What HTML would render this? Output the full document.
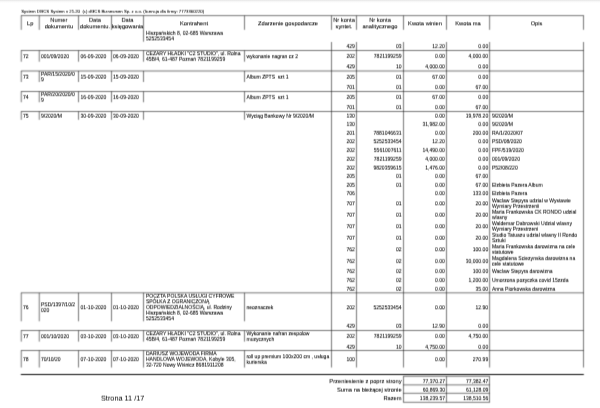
<!DOCTYPE html>
<html><head><meta charset="utf-8"><title>Strona 11/17</title>
<style>
html,body{margin:0;padding:0;background:#fff;width:600px;height:408px;overflow:hidden}
.top{position:absolute;left:0;top:0;width:600px;height:3px;background:linear-gradient(#e6e6e6,#f7f7f7 50%,#fff)}
svg{position:absolute;left:0;top:0;}
text{white-space:pre;stroke:#000;stroke-width:0.06px;font-family:"Liberation Sans",Arial,sans-serif;fill:#000}
</style></head><body>
<div class="top"></div>
<svg width="600" height="408" viewBox="0 0 600 408">
<defs><filter id="t0" x="-0.05" y="-0.4" width="1.1" height="1.8"><feConvolveMatrix order="1 3" kernelMatrix="0.4167 0.5833 0.0000" divisor="1" edgeMode="none" preserveAlpha="false"/></filter><filter id="t1" x="-0.05" y="-0.4" width="1.1" height="1.8"><feConvolveMatrix order="1 3" kernelMatrix="0.3667 0.6333 0.0000" divisor="1" edgeMode="none" preserveAlpha="false"/></filter><filter id="t2" x="-0.05" y="-0.4" width="1.1" height="1.8"><feConvolveMatrix order="1 3" kernelMatrix="0.3167 0.6667 0.0167" divisor="1" edgeMode="none" preserveAlpha="false"/></filter><filter id="t3" x="-0.05" y="-0.4" width="1.1" height="1.8"><feConvolveMatrix order="1 3" kernelMatrix="0.2667 0.6667 0.0667" divisor="1" edgeMode="none" preserveAlpha="false"/></filter><filter id="t4" x="-0.05" y="-0.4" width="1.1" height="1.8"><feConvolveMatrix order="1 3" kernelMatrix="0.2167 0.6667 0.1167" divisor="1" edgeMode="none" preserveAlpha="false"/></filter><filter id="t5" x="-0.05" y="-0.4" width="1.1" height="1.8"><feConvolveMatrix order="1 3" kernelMatrix="0.1667 0.6667 0.1667" divisor="1" edgeMode="none" preserveAlpha="false"/></filter><filter id="t6" x="-0.05" y="-0.4" width="1.1" height="1.8"><feConvolveMatrix order="1 3" kernelMatrix="0.1167 0.6667 0.2167" divisor="1" edgeMode="none" preserveAlpha="false"/></filter><filter id="t7" x="-0.05" y="-0.4" width="1.1" height="1.8"><feConvolveMatrix order="1 3" kernelMatrix="0.0667 0.6667 0.2667" divisor="1" edgeMode="none" preserveAlpha="false"/></filter><filter id="t8" x="-0.05" y="-0.4" width="1.1" height="1.8"><feConvolveMatrix order="1 3" kernelMatrix="0.0167 0.6667 0.3167" divisor="1" edgeMode="none" preserveAlpha="false"/></filter><filter id="t9" x="-0.05" y="-0.4" width="1.1" height="1.8"><feConvolveMatrix order="1 3" kernelMatrix="0.0000 0.6333 0.3667" divisor="1" edgeMode="none" preserveAlpha="false"/></filter><filter id="t10" x="-0.05" y="-0.4" width="1.1" height="1.8"><feConvolveMatrix order="1 3" kernelMatrix="0.0000 0.5833 0.4167" divisor="1" edgeMode="none" preserveAlpha="false"/></filter><filter id="tsoft" x="0" y="0" width="600" height="408" filterUnits="userSpaceOnUse"><feConvolveMatrix order="1 3" kernelMatrix="1 4 1" divisor="6" edgeMode="none" preserveAlpha="false"/></filter><filter id="soft" x="0" y="0" width="600" height="408" filterUnits="userSpaceOnUse"><feConvolveMatrix order="3" kernelMatrix="1 4 1 4 16 4 1 4 1" divisor="36" edgeMode="none" preserveAlpha="false"/></filter></defs>
<g filter="url(#soft)">
<line x1="20.96" y1="15.62" x2="583.80" y2="15.62" stroke="#000" stroke-width="0.55"/>
<line x1="21.26" y1="15.62" x2="21.26" y2="29.80" stroke="#000" stroke-width="0.55"/>
<line x1="39.26" y1="15.62" x2="39.26" y2="29.80" stroke="#000" stroke-width="0.55"/>
<line x1="78.50" y1="15.62" x2="78.50" y2="29.80" stroke="#000" stroke-width="0.55"/>
<line x1="111.50" y1="15.62" x2="111.50" y2="29.80" stroke="#000" stroke-width="0.55"/>
<line x1="143.50" y1="15.62" x2="143.50" y2="29.80" stroke="#000" stroke-width="0.55"/>
<line x1="244.50" y1="15.62" x2="244.50" y2="29.80" stroke="#000" stroke-width="0.55"/>
<line x1="331.50" y1="15.62" x2="331.50" y2="29.80" stroke="#000" stroke-width="0.55"/>
<line x1="356.50" y1="15.62" x2="356.50" y2="29.80" stroke="#000" stroke-width="0.55"/>
<line x1="403.50" y1="15.62" x2="403.50" y2="29.80" stroke="#000" stroke-width="0.55"/>
<line x1="446.50" y1="15.62" x2="446.50" y2="29.80" stroke="#000" stroke-width="0.55"/>
<line x1="489.60" y1="15.62" x2="489.60" y2="29.80" stroke="#000" stroke-width="0.55"/>
<line x1="583.50" y1="15.62" x2="583.50" y2="29.80" stroke="#000" stroke-width="0.55"/>
<line x1="143.50" y1="29.80" x2="143.50" y2="41.70" stroke="#000" stroke-width="0.55"/>
<line x1="331.50" y1="42.00" x2="331.50" y2="50.50" stroke="#000" stroke-width="0.55"/>
<line x1="356.50" y1="42.00" x2="356.50" y2="50.50" stroke="#000" stroke-width="0.55"/>
<line x1="403.50" y1="42.00" x2="403.50" y2="50.50" stroke="#000" stroke-width="0.55"/>
<line x1="446.50" y1="42.00" x2="446.50" y2="50.50" stroke="#000" stroke-width="0.55"/>
<line x1="489.60" y1="42.00" x2="489.60" y2="50.50" stroke="#000" stroke-width="0.55"/>
<line x1="583.50" y1="42.00" x2="583.50" y2="50.50" stroke="#000" stroke-width="0.55"/>
<line x1="20.96" y1="50.50" x2="583.80" y2="50.50" stroke="#000" stroke-width="0.55"/>
<line x1="21.26" y1="50.50" x2="21.26" y2="61.70" stroke="#000" stroke-width="0.55"/>
<line x1="39.26" y1="50.50" x2="39.26" y2="61.70" stroke="#000" stroke-width="0.55"/>
<line x1="78.50" y1="50.50" x2="78.50" y2="61.70" stroke="#000" stroke-width="0.55"/>
<line x1="111.50" y1="50.50" x2="111.50" y2="61.70" stroke="#000" stroke-width="0.55"/>
<line x1="143.50" y1="50.50" x2="143.50" y2="61.70" stroke="#000" stroke-width="0.55"/>
<line x1="244.50" y1="50.50" x2="244.50" y2="61.70" stroke="#000" stroke-width="0.55"/>
<line x1="331.50" y1="50.50" x2="331.50" y2="71.00" stroke="#000" stroke-width="0.55"/>
<line x1="356.50" y1="50.50" x2="356.50" y2="71.00" stroke="#000" stroke-width="0.55"/>
<line x1="403.50" y1="50.50" x2="403.50" y2="71.00" stroke="#000" stroke-width="0.55"/>
<line x1="446.50" y1="50.50" x2="446.50" y2="71.00" stroke="#000" stroke-width="0.55"/>
<line x1="489.60" y1="50.50" x2="489.60" y2="71.00" stroke="#000" stroke-width="0.55"/>
<line x1="583.50" y1="50.50" x2="583.50" y2="71.00" stroke="#000" stroke-width="0.55"/>
<line x1="20.96" y1="71.00" x2="583.80" y2="71.00" stroke="#000" stroke-width="0.55"/>
<line x1="21.26" y1="71.00" x2="21.26" y2="82.00" stroke="#000" stroke-width="0.55"/>
<line x1="39.26" y1="71.00" x2="39.26" y2="82.00" stroke="#000" stroke-width="0.55"/>
<line x1="78.50" y1="71.00" x2="78.50" y2="82.00" stroke="#000" stroke-width="0.55"/>
<line x1="111.50" y1="71.00" x2="111.50" y2="82.00" stroke="#000" stroke-width="0.55"/>
<line x1="143.50" y1="71.00" x2="143.50" y2="82.00" stroke="#000" stroke-width="0.55"/>
<line x1="244.50" y1="71.00" x2="244.50" y2="82.00" stroke="#000" stroke-width="0.55"/>
<line x1="331.50" y1="71.00" x2="331.50" y2="91.50" stroke="#000" stroke-width="0.55"/>
<line x1="356.50" y1="71.00" x2="356.50" y2="91.50" stroke="#000" stroke-width="0.55"/>
<line x1="403.50" y1="71.00" x2="403.50" y2="91.50" stroke="#000" stroke-width="0.55"/>
<line x1="446.50" y1="71.00" x2="446.50" y2="91.50" stroke="#000" stroke-width="0.55"/>
<line x1="489.60" y1="71.00" x2="489.60" y2="91.50" stroke="#000" stroke-width="0.55"/>
<line x1="583.50" y1="71.00" x2="583.50" y2="91.50" stroke="#000" stroke-width="0.55"/>
<line x1="20.96" y1="91.50" x2="583.80" y2="91.50" stroke="#000" stroke-width="0.55"/>
<line x1="21.26" y1="91.50" x2="21.26" y2="102.25" stroke="#000" stroke-width="0.55"/>
<line x1="39.26" y1="91.50" x2="39.26" y2="102.25" stroke="#000" stroke-width="0.55"/>
<line x1="78.50" y1="91.50" x2="78.50" y2="102.25" stroke="#000" stroke-width="0.55"/>
<line x1="111.50" y1="91.50" x2="111.50" y2="102.25" stroke="#000" stroke-width="0.55"/>
<line x1="143.50" y1="91.50" x2="143.50" y2="102.25" stroke="#000" stroke-width="0.55"/>
<line x1="244.50" y1="91.50" x2="244.50" y2="102.25" stroke="#000" stroke-width="0.55"/>
<line x1="331.50" y1="91.50" x2="331.50" y2="111.50" stroke="#000" stroke-width="0.55"/>
<line x1="356.50" y1="91.50" x2="356.50" y2="111.50" stroke="#000" stroke-width="0.55"/>
<line x1="403.50" y1="91.50" x2="403.50" y2="111.50" stroke="#000" stroke-width="0.55"/>
<line x1="446.50" y1="91.50" x2="446.50" y2="111.50" stroke="#000" stroke-width="0.55"/>
<line x1="489.60" y1="91.50" x2="489.60" y2="111.50" stroke="#000" stroke-width="0.55"/>
<line x1="583.50" y1="91.50" x2="583.50" y2="111.50" stroke="#000" stroke-width="0.55"/>
<line x1="20.96" y1="111.50" x2="583.80" y2="111.50" stroke="#000" stroke-width="0.55"/>
<line x1="21.26" y1="111.50" x2="21.26" y2="119.75" stroke="#000" stroke-width="0.55"/>
<line x1="39.26" y1="111.50" x2="39.26" y2="119.75" stroke="#000" stroke-width="0.55"/>
<line x1="78.50" y1="111.50" x2="78.50" y2="119.75" stroke="#000" stroke-width="0.55"/>
<line x1="111.50" y1="111.50" x2="111.50" y2="119.75" stroke="#000" stroke-width="0.55"/>
<line x1="143.50" y1="111.50" x2="143.50" y2="119.75" stroke="#000" stroke-width="0.55"/>
<line x1="244.50" y1="111.50" x2="244.50" y2="119.75" stroke="#000" stroke-width="0.55"/>
<line x1="331.50" y1="111.50" x2="331.50" y2="292.85" stroke="#000" stroke-width="0.55"/>
<line x1="356.50" y1="111.50" x2="356.50" y2="292.85" stroke="#000" stroke-width="0.55"/>
<line x1="403.50" y1="111.50" x2="403.50" y2="292.85" stroke="#000" stroke-width="0.55"/>
<line x1="446.50" y1="111.50" x2="446.50" y2="292.85" stroke="#000" stroke-width="0.55"/>
<line x1="489.60" y1="111.50" x2="489.60" y2="292.85" stroke="#000" stroke-width="0.55"/>
<line x1="583.50" y1="111.50" x2="583.50" y2="292.85" stroke="#000" stroke-width="0.55"/>
<line x1="20.96" y1="292.85" x2="583.80" y2="292.85" stroke="#000" stroke-width="0.55"/>
<line x1="21.26" y1="292.85" x2="21.26" y2="321.30" stroke="#000" stroke-width="0.55"/>
<line x1="39.26" y1="292.85" x2="39.26" y2="321.30" stroke="#000" stroke-width="0.55"/>
<line x1="78.50" y1="292.85" x2="78.50" y2="321.30" stroke="#000" stroke-width="0.55"/>
<line x1="111.50" y1="292.85" x2="111.50" y2="321.30" stroke="#000" stroke-width="0.55"/>
<line x1="143.50" y1="292.85" x2="143.50" y2="321.30" stroke="#000" stroke-width="0.55"/>
<line x1="244.50" y1="292.85" x2="244.50" y2="321.30" stroke="#000" stroke-width="0.55"/>
<line x1="331.50" y1="292.85" x2="331.50" y2="330.50" stroke="#000" stroke-width="0.55"/>
<line x1="356.50" y1="292.85" x2="356.50" y2="330.50" stroke="#000" stroke-width="0.55"/>
<line x1="403.50" y1="292.85" x2="403.50" y2="330.50" stroke="#000" stroke-width="0.55"/>
<line x1="446.50" y1="292.85" x2="446.50" y2="330.50" stroke="#000" stroke-width="0.55"/>
<line x1="489.60" y1="292.85" x2="489.60" y2="330.50" stroke="#000" stroke-width="0.55"/>
<line x1="583.50" y1="292.85" x2="583.50" y2="330.50" stroke="#000" stroke-width="0.55"/>
<line x1="20.96" y1="330.50" x2="583.80" y2="330.50" stroke="#000" stroke-width="0.55"/>
<line x1="21.26" y1="330.50" x2="21.26" y2="341.60" stroke="#000" stroke-width="0.55"/>
<line x1="39.26" y1="330.50" x2="39.26" y2="341.60" stroke="#000" stroke-width="0.55"/>
<line x1="78.50" y1="330.50" x2="78.50" y2="341.60" stroke="#000" stroke-width="0.55"/>
<line x1="111.50" y1="330.50" x2="111.50" y2="341.60" stroke="#000" stroke-width="0.55"/>
<line x1="143.50" y1="330.50" x2="143.50" y2="341.60" stroke="#000" stroke-width="0.55"/>
<line x1="244.50" y1="330.50" x2="244.50" y2="341.60" stroke="#000" stroke-width="0.55"/>
<line x1="331.50" y1="330.50" x2="331.50" y2="350.50" stroke="#000" stroke-width="0.55"/>
<line x1="356.50" y1="330.50" x2="356.50" y2="350.50" stroke="#000" stroke-width="0.55"/>
<line x1="403.50" y1="330.50" x2="403.50" y2="350.50" stroke="#000" stroke-width="0.55"/>
<line x1="446.50" y1="330.50" x2="446.50" y2="350.50" stroke="#000" stroke-width="0.55"/>
<line x1="489.60" y1="330.50" x2="489.60" y2="350.50" stroke="#000" stroke-width="0.55"/>
<line x1="583.50" y1="330.50" x2="583.50" y2="350.50" stroke="#000" stroke-width="0.55"/>
<line x1="20.96" y1="350.50" x2="583.80" y2="350.50" stroke="#000" stroke-width="0.55"/>
<line x1="21.26" y1="350.50" x2="21.26" y2="367.50" stroke="#000" stroke-width="0.55"/>
<line x1="39.26" y1="350.50" x2="39.26" y2="367.50" stroke="#000" stroke-width="0.55"/>
<line x1="78.50" y1="350.50" x2="78.50" y2="367.50" stroke="#000" stroke-width="0.55"/>
<line x1="111.50" y1="350.50" x2="111.50" y2="367.50" stroke="#000" stroke-width="0.55"/>
<line x1="143.50" y1="350.50" x2="143.50" y2="367.50" stroke="#000" stroke-width="0.55"/>
<line x1="244.50" y1="350.50" x2="244.50" y2="367.50" stroke="#000" stroke-width="0.55"/>
<line x1="331.50" y1="350.50" x2="331.50" y2="367.50" stroke="#000" stroke-width="0.55"/>
<line x1="356.50" y1="350.50" x2="356.50" y2="367.50" stroke="#000" stroke-width="0.55"/>
<line x1="403.50" y1="350.50" x2="403.50" y2="367.50" stroke="#000" stroke-width="0.55"/>
<line x1="446.50" y1="350.50" x2="446.50" y2="367.50" stroke="#000" stroke-width="0.55"/>
<line x1="489.60" y1="350.50" x2="489.60" y2="367.50" stroke="#000" stroke-width="0.55"/>
<line x1="583.50" y1="350.50" x2="583.50" y2="367.50" stroke="#000" stroke-width="0.55"/>
<line x1="20.80" y1="374.45" x2="583.80" y2="374.45" stroke="#000" stroke-width="1.1"/>
<line x1="403.20" y1="376.30" x2="489.80" y2="376.30" stroke="#000" stroke-width="0.55"/>
<line x1="403.20" y1="384.90" x2="489.80" y2="384.90" stroke="#000" stroke-width="0.55"/>
<line x1="403.20" y1="393.30" x2="489.80" y2="393.30" stroke="#000" stroke-width="0.55"/>
<line x1="403.20" y1="402.30" x2="489.80" y2="402.30" stroke="#000" stroke-width="0.55"/>
<line x1="403.50" y1="376.30" x2="403.50" y2="402.30" stroke="#000" stroke-width="0.55"/>
<line x1="446.50" y1="376.30" x2="446.50" y2="402.30" stroke="#000" stroke-width="0.55"/>
<line x1="489.50" y1="376.30" x2="489.50" y2="402.30" stroke="#000" stroke-width="0.55"/>
</g>
<text x="21.25" y="13" font-size="4.3" xml:space="preserve" filter="url(#t3)">System DGCS System v 21.20  (c) dGCS Biznesmen Sp. z o.o. (licencja dla firmy: 7773360220)</text>
<text x="30.26" y="25" font-size="5.75" text-anchor="middle" filter="url(#t9)">Lp</text>
<text x="58.88" y="22" font-size="5.75" text-anchor="middle" filter="url(#t4)">Numer</text>
<text x="58.88" y="28" font-size="5.75" text-anchor="middle" filter="url(#t9)">dokumentu</text>
<text x="95.00" y="22" font-size="5.75" text-anchor="middle" filter="url(#t4)">Data</text>
<text x="95.00" y="28" font-size="5.75" text-anchor="middle" filter="url(#t9)">dokumentu.</text>
<text x="127.50" y="22" font-size="5.75" text-anchor="middle" filter="url(#t4)">Data</text>
<text x="127.50" y="28" font-size="5.75" text-anchor="middle" filter="url(#t9)">księgowania</text>
<text x="194.00" y="25" font-size="5.75" text-anchor="middle" filter="url(#t9)">Kontrahent</text>
<text x="288.00" y="25" font-size="5.75" text-anchor="middle" filter="url(#t9)">Zdarzenie gospodarcze</text>
<text x="344.00" y="22" font-size="5.75" text-anchor="middle" filter="url(#t4)">Nr konta</text>
<text x="344.00" y="28" font-size="5.75" text-anchor="middle" filter="url(#t9)">syntet.</text>
<text x="380.00" y="22" font-size="5.75" text-anchor="middle" filter="url(#t4)">Nr konta</text>
<text x="380.00" y="28" font-size="5.75" text-anchor="middle" filter="url(#t9)">analitycznego</text>
<text x="425.00" y="25" font-size="5.75" text-anchor="middle" filter="url(#t9)">Kwota winien</text>
<text x="468.05" y="25" font-size="5.75" text-anchor="middle" filter="url(#t9)">Kwota ma</text>
<text x="536.55" y="25" font-size="5.75" text-anchor="middle" filter="url(#t9)">Opis</text>
<text x="145.90" y="35" font-size="5.05" filter="url(#t4)">Hiszpańskich 8, 02-685 Warszawa</text>
<text x="145.90" y="40" font-size="5.05" filter="url(#t10)">5252533454</text>
<text x="354.85" y="48" font-size="5.05" text-anchor="end" filter="url(#t6)">429</text>
<text x="401.50" y="48" font-size="5.05" text-anchor="end" filter="url(#t6)">03</text>
<text x="444.90" y="48" font-size="5.05" text-anchor="end" filter="url(#t6)">12.20</text>
<text x="488.20" y="48" font-size="5.05" text-anchor="end" filter="url(#t6)">0.00</text>
<text x="23.05" y="58" font-size="5.05" filter="url(#t7)">72</text>
<text x="40.95" y="58" font-size="5.05" filter="url(#t7)">001/09/2020</text>
<text x="80.55" y="58" font-size="5.05" filter="url(#t7)">06-09-2020</text>
<text x="113.05" y="58" font-size="5.05" filter="url(#t7)">06-09-2020</text>
<text x="145.90" y="55" font-size="5.05" filter="url(#t8)">CEZARY HŁADKI &quot;C2 STUDIO&quot;, ul. Rolna</text>
<text x="145.90" y="61" font-size="5.05" filter="url(#t4)">45B/4, 61-487 Poznań 7821199259</text>
<text x="246.45" y="58" font-size="5.05" filter="url(#t7)">wykonanie nagran cz 2</text>
<text x="354.85" y="58" font-size="5.05" text-anchor="end" filter="url(#t4)">202</text>
<text x="401.50" y="58" font-size="5.05" text-anchor="end" filter="url(#t4)">7821199259</text>
<text x="444.90" y="58" font-size="5.05" text-anchor="end" filter="url(#t4)">0.00</text>
<text x="488.20" y="58" font-size="5.05" text-anchor="end" filter="url(#t4)">4,000.00</text>
<text x="354.85" y="68" font-size="5.05" text-anchor="end" filter="url(#t10)">429</text>
<text x="401.50" y="68" font-size="5.05" text-anchor="end" filter="url(#t10)">10</text>
<text x="444.90" y="68" font-size="5.05" text-anchor="end" filter="url(#t10)">4,000.00</text>
<text x="488.20" y="68" font-size="5.05" text-anchor="end" filter="url(#t10)">0.00</text>
<text x="23.05" y="79" font-size="5.05" filter="url(#t1)">73</text>
<text x="40.95" y="76" font-size="5.05" filter="url(#t3)">PAR/15/2020/0</text>
<text x="40.95" y="81" font-size="5.05" filter="url(#t9)">9</text>
<text x="80.55" y="79" font-size="5.05" filter="url(#t1)">15-09-2020</text>
<text x="113.05" y="79" font-size="5.05" filter="url(#t1)">15-09-2020</text>
<text x="246.45" y="79" font-size="5.05" filter="url(#t1)">Album ZPTS  szt 1</text>
<text x="354.85" y="79" font-size="5.05" text-anchor="end" filter="url(#t3)">205</text>
<text x="401.50" y="79" font-size="5.05" text-anchor="end" filter="url(#t3)">01</text>
<text x="444.90" y="79" font-size="5.05" text-anchor="end" filter="url(#t3)">67.00</text>
<text x="488.20" y="79" font-size="5.05" text-anchor="end" filter="url(#t3)">0.00</text>
<text x="354.85" y="89" font-size="5.05" text-anchor="end" filter="url(#t5)">701</text>
<text x="401.50" y="89" font-size="5.05" text-anchor="end" filter="url(#t5)">01</text>
<text x="444.90" y="89" font-size="5.05" text-anchor="end" filter="url(#t5)">0.00</text>
<text x="488.20" y="89" font-size="5.05" text-anchor="end" filter="url(#t5)">67.00</text>
<text x="23.05" y="99" font-size="5.05" filter="url(#t5)">74</text>
<text x="40.95" y="96" font-size="5.05" filter="url(#t6)">PAR/20/2020/0</text>
<text x="40.95" y="102" font-size="5.05" filter="url(#t3)">9</text>
<text x="80.55" y="99" font-size="5.05" filter="url(#t5)">16-09-2020</text>
<text x="113.05" y="99" font-size="5.05" filter="url(#t5)">16-09-2020</text>
<text x="246.45" y="99" font-size="5.05" filter="url(#t5)">Album ZPTS  szt 1</text>
<text x="354.85" y="99" font-size="5.05" text-anchor="end" filter="url(#t4)">205</text>
<text x="401.50" y="99" font-size="5.05" text-anchor="end" filter="url(#t4)">01</text>
<text x="444.90" y="99" font-size="5.05" text-anchor="end" filter="url(#t4)">67.00</text>
<text x="488.20" y="99" font-size="5.05" text-anchor="end" filter="url(#t4)">0.00</text>
<text x="354.85" y="109" font-size="5.05" text-anchor="end" filter="url(#t6)">701</text>
<text x="401.50" y="109" font-size="5.05" text-anchor="end" filter="url(#t6)">01</text>
<text x="444.90" y="109" font-size="5.05" text-anchor="end" filter="url(#t6)">0.00</text>
<text x="488.20" y="109" font-size="5.05" text-anchor="end" filter="url(#t6)">67.00</text>
<text x="23.05" y="118" font-size="5.05" filter="url(#t2)">75</text>
<text x="40.95" y="118" font-size="5.05" filter="url(#t2)">9/2020/M</text>
<text x="80.55" y="118" font-size="5.05" filter="url(#t2)">30-09-2020</text>
<text x="113.05" y="118" font-size="5.05" filter="url(#t2)">30-09-2020</text>
<text x="246.45" y="118" font-size="5.05" filter="url(#t2)">Wyciąg Bankowy Nr 9/2020/M</text>
<text x="354.85" y="118" font-size="5.05" text-anchor="end" filter="url(#t1)">130</text>
<text x="444.90" y="118" font-size="5.05" text-anchor="end" filter="url(#t1)">0.00</text>
<text x="488.20" y="118" font-size="5.05" text-anchor="end" filter="url(#t1)">19,978.20</text>
<text x="491.90" y="118" font-size="5.05" filter="url(#t1)">9/2020/M</text>
<text x="354.85" y="126" font-size="5.05" text-anchor="end" filter="url(#t5)">130</text>
<text x="444.90" y="126" font-size="5.05" text-anchor="end" filter="url(#t5)">31,982.00</text>
<text x="488.20" y="126" font-size="5.05" text-anchor="end" filter="url(#t5)">0.00</text>
<text x="491.90" y="126" font-size="5.05" filter="url(#t5)">9/2020/M</text>
<text x="354.85" y="135" font-size="5.05" text-anchor="end" filter="url(#t3)">201</text>
<text x="401.50" y="135" font-size="5.05" text-anchor="end" filter="url(#t3)">7881046631</text>
<text x="444.90" y="135" font-size="5.05" text-anchor="end" filter="url(#t3)">0.00</text>
<text x="488.20" y="135" font-size="5.05" text-anchor="end" filter="url(#t3)">200.00</text>
<text x="491.90" y="135" font-size="5.05" filter="url(#t3)">RA/1/2020/07</text>
<text x="354.85" y="143" font-size="5.05" text-anchor="end" filter="url(#t7)">202</text>
<text x="401.50" y="143" font-size="5.05" text-anchor="end" filter="url(#t7)">5252533454</text>
<text x="444.90" y="143" font-size="5.05" text-anchor="end" filter="url(#t7)">12.20</text>
<text x="488.20" y="143" font-size="5.05" text-anchor="end" filter="url(#t7)">0.00</text>
<text x="491.90" y="143" font-size="5.05" filter="url(#t7)">PSD/08/2020</text>
<text x="354.85" y="152" font-size="5.05" text-anchor="end" filter="url(#t5)">202</text>
<text x="401.50" y="152" font-size="5.05" text-anchor="end" filter="url(#t5)">5561007611</text>
<text x="444.90" y="152" font-size="5.05" text-anchor="end" filter="url(#t5)">14,490.00</text>
<text x="488.20" y="152" font-size="5.05" text-anchor="end" filter="url(#t5)">0.00</text>
<text x="491.90" y="152" font-size="5.05" filter="url(#t5)">FPF/519/2020</text>
<text x="354.85" y="161" font-size="5.05" text-anchor="end" filter="url(#t3)">202</text>
<text x="401.50" y="161" font-size="5.05" text-anchor="end" filter="url(#t3)">7821199259</text>
<text x="444.90" y="161" font-size="5.05" text-anchor="end" filter="url(#t3)">4,000.00</text>
<text x="488.20" y="161" font-size="5.05" text-anchor="end" filter="url(#t3)">0.00</text>
<text x="491.90" y="161" font-size="5.05" filter="url(#t3)">001/09/2020</text>
<text x="354.85" y="170" font-size="5.05" text-anchor="end" filter="url(#t0)">202</text>
<text x="401.50" y="170" font-size="5.05" text-anchor="end" filter="url(#t0)">9820359615</text>
<text x="444.90" y="170" font-size="5.05" text-anchor="end" filter="url(#t0)">1,476.00</text>
<text x="488.20" y="170" font-size="5.05" text-anchor="end" filter="url(#t0)">0.00</text>
<text x="491.90" y="170" font-size="5.05" filter="url(#t0)">P52/08/220</text>
<text x="354.85" y="178" font-size="5.05" text-anchor="end" filter="url(#t4)">205</text>
<text x="401.50" y="178" font-size="5.05" text-anchor="end" filter="url(#t4)">01</text>
<text x="444.90" y="178" font-size="5.05" text-anchor="end" filter="url(#t4)">0.00</text>
<text x="488.20" y="178" font-size="5.05" text-anchor="end" filter="url(#t4)">67.00</text>
<text x="354.85" y="187" font-size="5.05" text-anchor="end" filter="url(#t3)">205</text>
<text x="401.50" y="187" font-size="5.05" text-anchor="end" filter="url(#t3)">01</text>
<text x="444.90" y="187" font-size="5.05" text-anchor="end" filter="url(#t3)">0.00</text>
<text x="488.20" y="187" font-size="5.05" text-anchor="end" filter="url(#t3)">67.00</text>
<text x="491.90" y="187" font-size="5.05" filter="url(#t3)">Elzbieta Pazera Album</text>
<text x="354.85" y="195" font-size="5.05" text-anchor="end" filter="url(#t6)">706</text>
<text x="444.90" y="195" font-size="5.05" text-anchor="end" filter="url(#t6)">0.00</text>
<text x="488.20" y="195" font-size="5.05" text-anchor="end" filter="url(#t6)">133.00</text>
<text x="491.90" y="195" font-size="5.05" filter="url(#t6)">Elzbieta Pazera</text>
<text x="354.85" y="205" font-size="5.05" text-anchor="end" filter="url(#t9)">707</text>
<text x="401.50" y="205" font-size="5.05" text-anchor="end" filter="url(#t9)">01</text>
<text x="444.90" y="205" font-size="5.05" text-anchor="end" filter="url(#t9)">0.00</text>
<text x="488.20" y="205" font-size="5.05" text-anchor="end" filter="url(#t9)">20.00</text>
<text x="491.90" y="202" font-size="5.05" filter="url(#t10)">Waclaw Stepyra udzial w Wystawie</text>
<text x="491.90" y="208" font-size="5.05" filter="url(#t4)">Wymiary Przestrzenii</text>
<text x="354.85" y="217" font-size="5.05" text-anchor="end" filter="url(#t1)">707</text>
<text x="401.50" y="217" font-size="5.05" text-anchor="end" filter="url(#t1)">01</text>
<text x="444.90" y="217" font-size="5.05" text-anchor="end" filter="url(#t1)">0.00</text>
<text x="488.20" y="217" font-size="5.05" text-anchor="end" filter="url(#t1)">20.00</text>
<text x="491.90" y="214" font-size="5.05" filter="url(#t2)">Maria Frankowska CK RONDO udzial</text>
<text x="491.90" y="219" font-size="5.05" filter="url(#t6)">wlasny</text>
<text x="354.85" y="228" font-size="5.05" text-anchor="end" filter="url(#t7)">707</text>
<text x="401.50" y="228" font-size="5.05" text-anchor="end" filter="url(#t7)">01</text>
<text x="444.90" y="228" font-size="5.05" text-anchor="end" filter="url(#t7)">0.00</text>
<text x="488.20" y="228" font-size="5.05" text-anchor="end" filter="url(#t7)">20.00</text>
<text x="491.90" y="225" font-size="5.05" filter="url(#t7)">Waldemar Dabrowski Udzial wlasny</text>
<text x="491.90" y="231" font-size="5.05" filter="url(#t2)">Wymiary Przestrzeni</text>
<text x="354.85" y="240" font-size="5.05" text-anchor="end" filter="url(#t2)">707</text>
<text x="401.50" y="240" font-size="5.05" text-anchor="end" filter="url(#t2)">01</text>
<text x="444.90" y="240" font-size="5.05" text-anchor="end" filter="url(#t2)">0.00</text>
<text x="488.20" y="240" font-size="5.05" text-anchor="end" filter="url(#t2)">20.00</text>
<text x="491.90" y="237" font-size="5.05" filter="url(#t3)">Studio Tatuazu udzial wlasny II Rondo</text>
<text x="491.90" y="242" font-size="5.05" filter="url(#t7)">Sztuki</text>
<text x="354.85" y="251" font-size="5.05" text-anchor="end" filter="url(#t8)">762</text>
<text x="401.50" y="251" font-size="5.05" text-anchor="end" filter="url(#t8)">02</text>
<text x="444.90" y="251" font-size="5.05" text-anchor="end" filter="url(#t8)">0.00</text>
<text x="488.20" y="251" font-size="5.05" text-anchor="end" filter="url(#t8)">100.00</text>
<text x="491.90" y="248" font-size="5.05" filter="url(#t9)">Maria Frankowska darowizna na cele</text>
<text x="491.90" y="254" font-size="5.05" filter="url(#t3)">statutowe</text>
<text x="354.85" y="263" font-size="5.05" text-anchor="end" filter="url(#t5)">762</text>
<text x="401.50" y="263" font-size="5.05" text-anchor="end" filter="url(#t5)">02</text>
<text x="444.90" y="263" font-size="5.05" text-anchor="end" filter="url(#t5)">0.00</text>
<text x="488.20" y="263" font-size="5.05" text-anchor="end" filter="url(#t5)">30,000.00</text>
<text x="491.90" y="260" font-size="5.05" filter="url(#t6)">Magdalena Sciezynska darowizna na</text>
<text x="491.90" y="266" font-size="5.05" filter="url(#t0)">cele statutowe</text>
<text x="354.85" y="273" font-size="5.05" text-anchor="end" filter="url(#t5)">762</text>
<text x="401.50" y="273" font-size="5.05" text-anchor="end" filter="url(#t5)">02</text>
<text x="444.90" y="273" font-size="5.05" text-anchor="end" filter="url(#t5)">0.00</text>
<text x="488.20" y="273" font-size="5.05" text-anchor="end" filter="url(#t5)">100.00</text>
<text x="491.90" y="273" font-size="5.05" filter="url(#t5)">Waclaw Stepyra darowizna</text>
<text x="354.85" y="282" font-size="5.05" text-anchor="end" filter="url(#t5)">762</text>
<text x="401.50" y="282" font-size="5.05" text-anchor="end" filter="url(#t5)">02</text>
<text x="444.90" y="282" font-size="5.05" text-anchor="end" filter="url(#t5)">0.00</text>
<text x="488.20" y="282" font-size="5.05" text-anchor="end" filter="url(#t5)">1,200.00</text>
<text x="491.90" y="282" font-size="5.05" filter="url(#t5)">Umorzona pozyczka covid 15zzda</text>
<text x="354.85" y="291" font-size="5.05" text-anchor="end" filter="url(#t3)">762</text>
<text x="401.50" y="291" font-size="5.05" text-anchor="end" filter="url(#t3)">02</text>
<text x="444.90" y="291" font-size="5.05" text-anchor="end" filter="url(#t3)">0.00</text>
<text x="488.20" y="291" font-size="5.05" text-anchor="end" filter="url(#t3)">35.00</text>
<text x="491.90" y="291" font-size="5.05" filter="url(#t3)">Anna Piorkowska darowizna</text>
<text x="23.05" y="309" font-size="5.05" filter="url(#t7)">76</text>
<text x="40.95" y="306" font-size="5.05" filter="url(#t9)">PSD/1397/10/2</text>
<text x="40.95" y="312" font-size="5.05" filter="url(#t5)">020</text>
<text x="80.55" y="309" font-size="5.05" filter="url(#t7)">01-10-2020</text>
<text x="113.05" y="309" font-size="5.05" filter="url(#t7)">01-10-2020</text>
<text x="145.90" y="298" font-size="5.05" filter="url(#t2)">POCZTA POLSKA USŁUGI CYFROWE</text>
<text x="145.90" y="303" font-size="5.05" filter="url(#t8)">SPÓŁKA Z OGRANICZONĄ</text>
<text x="145.90" y="309" font-size="5.05" filter="url(#t5)">ODPOWIEDZIALNOŚCIĄ, ul. Rodziny</text>
<text x="145.90" y="315" font-size="5.05" filter="url(#t1)">Hiszpańskich 8, 02-685 Warszawa</text>
<text x="145.90" y="320" font-size="5.05" filter="url(#t8)">5252533454</text>
<text x="246.45" y="309" font-size="5.05" filter="url(#t7)">neoznaczek</text>
<text x="354.85" y="309" font-size="5.05" text-anchor="end" filter="url(#t9)">202</text>
<text x="401.50" y="309" font-size="5.05" text-anchor="end" filter="url(#t9)">5252533454</text>
<text x="444.90" y="309" font-size="5.05" text-anchor="end" filter="url(#t9)">0.00</text>
<text x="488.20" y="309" font-size="5.05" text-anchor="end" filter="url(#t9)">12.90</text>
<text x="354.85" y="328" font-size="5.05" text-anchor="end" filter="url(#t3)">429</text>
<text x="401.50" y="328" font-size="5.05" text-anchor="end" filter="url(#t3)">03</text>
<text x="444.90" y="328" font-size="5.05" text-anchor="end" filter="url(#t3)">12.90</text>
<text x="488.20" y="328" font-size="5.05" text-anchor="end" filter="url(#t3)">0.00</text>
<text x="23.05" y="338" font-size="5.05" filter="url(#t7)">77</text>
<text x="40.95" y="338" font-size="5.05" filter="url(#t7)">001/10/2020</text>
<text x="80.55" y="338" font-size="5.05" filter="url(#t7)">03-10-2020</text>
<text x="113.05" y="338" font-size="5.05" filter="url(#t7)">03-10-2020</text>
<text x="145.90" y="335" font-size="5.05" filter="url(#t8)">CEZARY HŁADKI &quot;C2 STUDIO&quot;, ul. Rolna</text>
<text x="145.90" y="341" font-size="5.05" filter="url(#t4)">45B/4, 61-487 Poznań 7821199259</text>
<text x="246.45" y="335" font-size="5.05" filter="url(#t8)">Wykonanie nafran zespolow</text>
<text x="246.45" y="341" font-size="5.05" filter="url(#t5)">muzycznych</text>
<text x="354.85" y="338" font-size="5.05" text-anchor="end" filter="url(#t4)">202</text>
<text x="401.50" y="338" font-size="5.05" text-anchor="end" filter="url(#t4)">7821199259</text>
<text x="444.90" y="338" font-size="5.05" text-anchor="end" filter="url(#t4)">0.00</text>
<text x="488.20" y="338" font-size="5.05" text-anchor="end" filter="url(#t4)">4,750.00</text>
<text x="354.85" y="349" font-size="5.05" text-anchor="end" filter="url(#t3)">429</text>
<text x="401.50" y="349" font-size="5.05" text-anchor="end" filter="url(#t3)">10</text>
<text x="444.90" y="349" font-size="5.05" text-anchor="end" filter="url(#t3)">4,750.00</text>
<text x="488.20" y="349" font-size="5.05" text-anchor="end" filter="url(#t3)">0.00</text>
<text x="23.05" y="361" font-size="5.05" filter="url(#t6)">78</text>
<text x="40.95" y="361" font-size="5.05" filter="url(#t6)">70/10/20</text>
<text x="80.55" y="361" font-size="5.05" filter="url(#t6)">07-10-2020</text>
<text x="113.05" y="361" font-size="5.05" filter="url(#t6)">07-10-2020</text>
<text x="145.90" y="355" font-size="5.05" filter="url(#t8)">DARIUSZ WOJEWODA FIRMA</text>
<text x="145.90" y="361" font-size="5.05" filter="url(#t4)">HANDLOWA WOJEWODA, Kobyle 305,</text>
<text x="145.90" y="367" font-size="5.05" filter="url(#t1)">32-720 Nowy Wiśnicz 8681911208</text>
<text x="246.45" y="358" font-size="5.05" filter="url(#t8)">roll up premium 100x200 cm , usługa</text>
<text x="246.45" y="364" font-size="5.05" filter="url(#t4)">kurierska</text>
<text x="354.85" y="361" font-size="5.05" text-anchor="end" filter="url(#t7)">100</text>
<text x="444.90" y="361" font-size="5.05" text-anchor="end" filter="url(#t7)">0.00</text>
<text x="488.20" y="361" font-size="5.05" text-anchor="end" filter="url(#t7)">270.99</text>
<text x="401.60" y="383" font-size="5.75" text-anchor="end" filter="url(#t6)">Przeniesienie z poprz strony</text>
<text x="445.10" y="383" font-size="5.05" text-anchor="end" filter="url(#t6)">77,370.27</text>
<text x="488.40" y="383" font-size="5.05" text-anchor="end" filter="url(#t6)">77,382.47</text>
<text x="401.60" y="392" font-size="5.75" text-anchor="end" filter="url(#t1)">Suma na bieżącej stronie</text>
<text x="445.10" y="392" font-size="5.05" text-anchor="end" filter="url(#t1)">60,869.30</text>
<text x="488.40" y="392" font-size="5.05" text-anchor="end" filter="url(#t1)">61,128.09</text>
<text x="401.60" y="400" font-size="5.75" text-anchor="end" filter="url(#t6)">Razem</text>
<text x="445.10" y="400" font-size="5.05" text-anchor="end" filter="url(#t6)">138,239.57</text>
<text x="488.40" y="400" font-size="5.05" text-anchor="end" filter="url(#t6)">138,510.56</text>
<text x="101.00" y="401" font-size="7.3" style="stroke:none" filter="url(#t1)">Strona 11 /17</text>
</svg>
</body></html>
